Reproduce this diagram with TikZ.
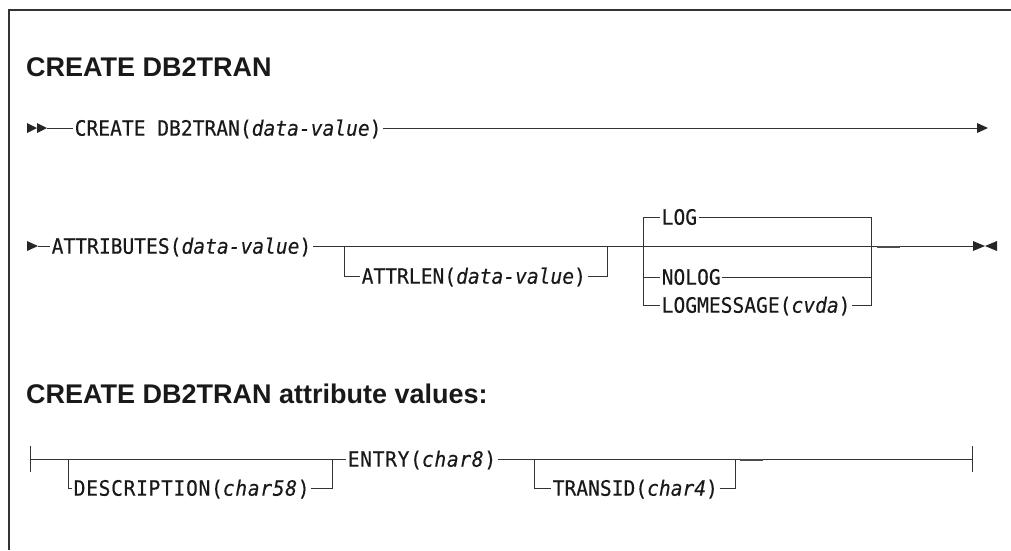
\documentclass[tikz,border=0pt]{standalone}
\usepackage{fontspec}
\setmainfont{Liberation Sans}
\newfontfamily\dmono[FakeBold=0.35]{DejaVu Sans Mono}
\newfontfamily\dmonowide[FakeBold=0.35,LetterSpace=3.5]{DejaVu Sans Mono}
\newcommand{\tall}[1]{\scalebox{1}[1.08]{#1}}
\usetikzlibrary{calc}
\begin{document}
\begin{tikzpicture}[x=1pt,y=-1pt,
  rail/.style={line width=1pt, draw=black!80},
  kw/.style={font=\dmono\fontsize{19.6}{20}\selectfont, text=black!90, anchor=west,
             inner xsep=1.5pt, inner ysep=0pt, text height=15.4pt, text depth=0pt},
  kwwide/.style={kw, font=\dmonowide\fontsize{19.6}{20}\selectfont},
  ttl/.style={font=\fontsize{27}{29}\selectfont\bfseries, anchor=base west, inner sep=0pt, text=black!90},
  tip/.style={fill=black!85, draw=none},
  smudge/.style={line width=2pt, draw=black!70}]
\useasboundingbox (0,0) rectangle (1011,550);
\draw[line width=1.3pt, black!80] (9,550) -- (9,10) -- (1011,10);

% titles
\node[ttl] (h1) at (26,76) {CREATE DB2TRAN};
\node[ttl] (h2) at (26,403) {CREATE DB2TRAN attribute values:};

% ---- line 1
\coordinate (s1) at (47,128);
\coordinate (e1) at (977,128);
\node[kw] (c1) at (73,128) {\tall{CREATE DB2TRAN(\textit{data-value})}};
\fill[tip] (27,123) -- (37,128) -- (27,133) -- cycle;
\fill[tip] (37,123) -- (47,128) -- (37,133) -- cycle;
\draw[rail] (s1) -- (c1.west);
\draw[rail] (c1.east) -- (e1);
\fill[tip] (977,123) -- (988,128) -- (977,133) -- cycle;

% ---- line 2
\coordinate (s2) at (38,246);
\coordinate (b1) at (344,246);
\coordinate (b2) at (607,246);
\coordinate (ch1) at (643,246);
\coordinate (ch2) at (871,246);
\coordinate (e2) at (973,246);
\fill[tip] (27,241) -- (38,246) -- (27,251) -- cycle;
\node[kw] (a2) at (50,246) {\tall{ATTRIBUTES(\textit{data-value})}};
\draw[rail] (s2) -- (a2.west);
\draw[rail] (a2.east) -- (e2);
\node[kw] (al) at (360,276) {\tall{ATTRLEN(\textit{data-value})}};
\draw[rail] (b1) |- (al.west);
\draw[rail] (al.east) -| (b2);
\node[kw] (log) at (660,217) {\tall{LOG}};
\node[kw] (nolog) at (660,277) {\tall{NOLOG}};
\node[kw] (logm) at (660,305) {\tall{LOGMESSAGE(\textit{cvda})}};
\draw[rail] (log.west) -- (log.west -| ch1) -- (logm.west -| ch1) -- (logm.west);
\draw[rail] (nolog.west -| ch1) -- (nolog.west);
\draw[rail] (log.east) -- (log.east -| ch2) -- (logm.east -| ch2) -- (logm.east);
\draw[rail] (nolog.east) -- (nolog.east -| ch2);
\draw[smudge] (877,246.6) -- (900,246.6);
\fill[tip] (973,241) -- (985,246) -- (973,251) -- cycle;
\fill[tip] (997,241) -- (985,246) -- (997,251) -- cycle;

% ---- line 3
\coordinate (s3) at (30,459);
\coordinate (d1) at (68,459);
\coordinate (d2) at (332,459);
\coordinate (q1) at (534,459);
\coordinate (q2) at (735,459);
\coordinate (e3) at (972,459);
\draw[rail] (30,446) -- (30,472);
\node[kwwide] (entry) at (346,459) {\tall{ENTRY(\textit{char8})}};
\draw[rail] (s3) -- (entry.west);
\draw[rail] (entry.east) -- (e3);
\node[kwwide] (desc) at (72,488) {\tall{DESCRIPTION(\textit{char58})}};
\draw[rail] (d1) |- (desc.west);
\draw[rail] (desc.east) -| (d2);
\node[kw] (trans) at (551,488) {\tall{TRANSID(\textit{char4})}};
\draw[rail] (q1) |- (trans.west);
\draw[rail] (trans.east) -| (q2);
\draw[smudge] (740,459.6) -- (763,459.6);
\draw[rail] (972,446) -- (972,472);
\end{tikzpicture}
\end{document}
